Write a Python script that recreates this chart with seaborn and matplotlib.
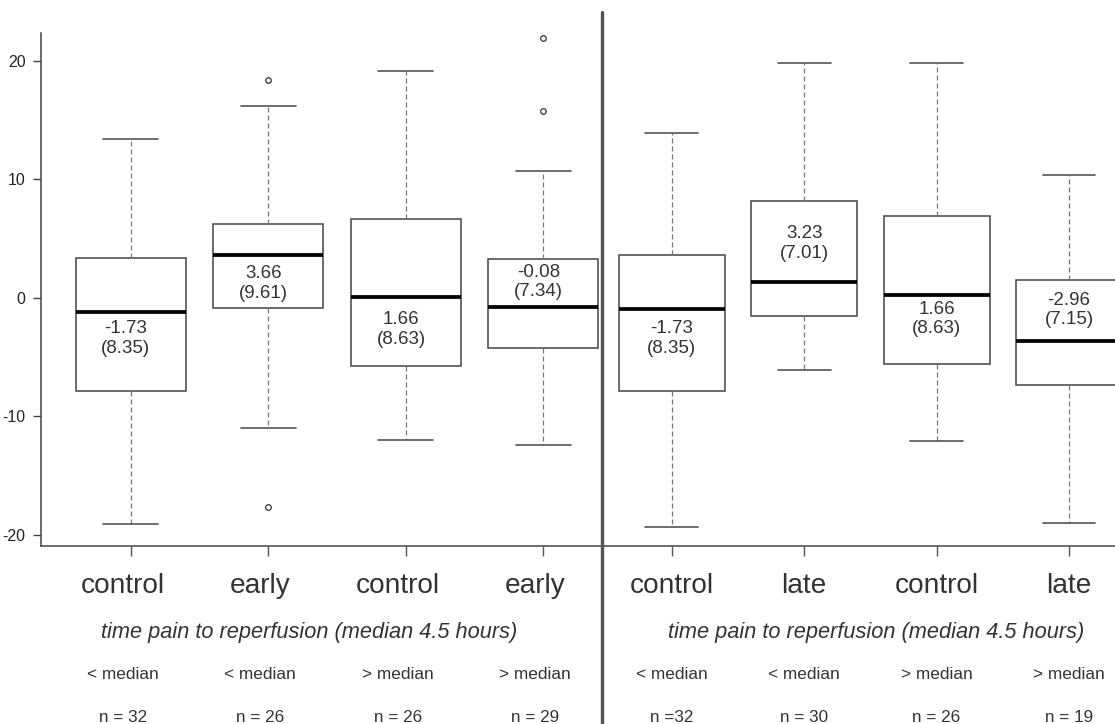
import numpy as np
import pandas as pd
import matplotlib
matplotlib.use("Agg")
import matplotlib.pyplot as plt
import matplotlib.transforms as mtrans
from matplotlib.lines import Line2D
import seaborn as sns

# ---------------- data ----------------
left_labels = ["control", "early", "control", "early"]
right_labels = ["control", "late", "control", "late"]
left_split = ["< median", "< median", "> median", "> median"]
right_split = ["< median", "< median", "> median", "> median"]
left_n = ["n = 32", "n = 26", "n = 26", "n = 29"]
right_n = ["n =32", "n = 30", "n = 26", "n = 19"]
left_mean = ["-1.73", "3.66", "1.66", "-0.08"]
left_sd = ["(8.35)", "(9.61)", "(8.63)", "(7.34)"]
right_mean = ["-1.73", "3.23", "1.66", "-2.96"]
right_sd = ["(8.35)", "(7.01)", "(8.63)", "(7.15)"]
subtitle = "time pain to reperfusion (median 4.5 hours)"

# five-number summaries and outliers
left_wlo = [-19.1, -11.0, -12.0, -12.43]
left_q1 = [-7.85, -0.89, -5.74, -4.22]
left_med = [-1.18, 3.58, 0.08, -0.76]
left_q3 = [3.38, 6.22, 6.62, 3.29]
left_whi = [13.37, 16.18, 19.13, 10.69]
left_out_lo = [[], [-17.64], [], []]
left_out_hi = [[], [18.37], [], [15.76, 21.94]]

right_wlo = [-19.38, -6.1, -12.1, -18.99]
right_q1 = [-7.85, -1.52, -5.6, -7.39]
right_med = [-0.95, 1.3, 0.25, -3.65]
right_q3 = [3.6, 8.16, 6.92, 1.49]
right_whi = [13.87, 19.8, 19.8, 10.35]
right_out_lo = [[], [], [], []]
right_out_hi = [[], [], [], []]

# label block vertical positions (data units, centre of the two-line text)
left_ann_y = [-3.43, 1.21, -2.66, 1.31]
right_ann_y = [-3.43, 4.55, -1.81, -1.04]


def build_frame(wlo, q1, med, q3, whi, out_lo, out_hi):
    """13 points per group whose quartiles/whiskers equal the read values."""
    rows = []
    for i in range(len(q1)):
        lo = sorted(out_lo[i]) + [wlo[i]] * (3 - len(out_lo[i]))
        hi = [whi[i]] * (3 - len(out_hi[i])) + sorted(out_hi[i])
        vals = lo + [q1[i]] + [med[i]] * 5 + [q3[i]] + hi
        for v in vals:
            rows.append({"grp": f"g{i}", "val": v})
    return pd.DataFrame(rows)


dfL = build_frame(left_wlo, left_q1, left_med, left_q3, left_whi, left_out_lo, left_out_hi)
dfR = build_frame(right_wlo, right_q1, right_med, right_q3, right_whi, right_out_lo, right_out_hi)
order = ["g0", "g1", "g2", "g3"]

# ---------------- style ----------------
sns.set_theme(style="ticks")
plt.rcParams["font.family"] = ["Liberation Sans", "DejaVu Sans"]

W, H = 1115, 724
fig = plt.figure(figsize=(W / 100, H / 100), dpi=100)
fig.patch.set_facecolor("white")


def fax(x0, x1, ytop, ybot):
    return [x0 / W, 1 - ybot / H, (x1 - x0) / W, (ybot - ytop) / H]


axL = fig.add_axes(fax(40.7, 601.7, 33.2, 545.7))
axR = fig.add_axes(fax(601.7, 1115, 33.2, 545.7))

box_kws = dict(
    order=order, width=0.8, color="white", linecolor="#444444", linewidth=1.1,
    fliersize=4,
    boxprops=dict(facecolor="white", edgecolor="#444444", linewidth=1.1),
    whiskerprops=dict(color="#777777", linewidth=0.9, linestyle=(0, (4, 2.4))),
    capprops=dict(color="#555555", linewidth=1.2),
    medianprops=dict(color="black", linewidth=2.7),
    flierprops=dict(marker="o", markerfacecolor="none", markeredgecolor="#333333",
                    markeredgewidth=0.9),
)

sns.boxplot(data=dfL, x="grp", y="val", ax=axL, **box_kws)
sns.boxplot(data=dfR, x="grp", y="val", ax=axR, **box_kws)

ylo, yhi = -20.93, 22.32
axL.set_xlim(-0.6544, 3.4247)
axR.set_xlim(-0.5286, 3.3474)
for ax in (axL, axR):
    ax.set_ylim(ylo, yhi)
    ax.set_xlabel("")
    ax.set_ylabel("")
    ax.set_facecolor("white")
    ax.spines["top"].set_visible(False)
    ax.spines["right"].set_visible(False)
    ax.spines["bottom"].set_color("#444444")
    ax.spines["bottom"].set_linewidth(1.1)
    ax.set_xticks(range(4))
    ax.set_xticklabels([""] * 4)
    ax.tick_params(axis="x", length=7.2, width=1.0, color="#555555")

axL.spines["left"].set_color("#444444")
axL.spines["left"].set_linewidth(1.1)
axL.set_yticks([-20, -10, 0, 10, 20])
axL.set_yticklabels(["-20", "-10", "0", "10", "20"],
                    family=["Liberation Sans Narrow", "Liberation Sans", "DejaVu Sans"],
                    fontsize=11.5, color="#222222")
axL.tick_params(axis="y", length=5.8, width=1.0, color="#444444", pad=5)

axR.spines["left"].set_visible(False)
axR.set_yticks([])

# mean (sd) labels inside boxes
panels = [
    (axL, left_labels, left_split, left_n, left_mean, left_sd, left_ann_y, -8),
    (axR, right_labels, right_split, right_n, right_mean, right_sd, right_ann_y, 0),
]
for ax, cats, split, nlab, means, sds, ann_y, dx in panels:
    for i in range(4):
        ax.text(i, ann_y[i], f"{means[i]}\n{sds[i]}", ha="center", va="center",
                fontsize=13.5, color="#333333", linespacing=1.2,
                transform=mtrans.offset_copy(ax.transData, fig=fig, x=dx * 0.6, units="dots"))
    trans = mtrans.offset_copy(
        mtrans.blended_transform_factory(ax.transData, fig.transFigure),
        fig=fig, x=dx, units="dots")
    for i in range(4):
        ax.text(i, 1 - 593.3 / H, cats[i], ha="center", va="baseline",
                fontsize=20.2, color="#333333", transform=trans, clip_on=False)
        ax.text(i, 1 - 679.3 / H, split[i], ha="center", va="baseline",
                fontsize=12.4, color="#333333", transform=trans, clip_on=False)
        ax.text(i, 1 - 721.5 / H, nlab[i], ha="center", va="baseline",
                fontsize=12.3, color="#333333", transform=trans, clip_on=False)

fig.text(309.5 / W, 1 - 638.3 / H, subtitle, ha="center", va="baseline",
         fontsize=15.7, style="italic", color="#333333")
fig.text(876 / W, 1 - 638.3 / H, subtitle, ha="center", va="baseline",
         fontsize=15.7, style="italic", color="#333333")

# divider between the two panels
fig.add_artist(Line2D([601.7 / W, 601.7 / W], [0, 1 - 11.7 / H],
                      transform=fig.transFigure, color="#555555", linewidth=2.4))

fig.savefig("out.png", dpi=100, facecolor="white")
